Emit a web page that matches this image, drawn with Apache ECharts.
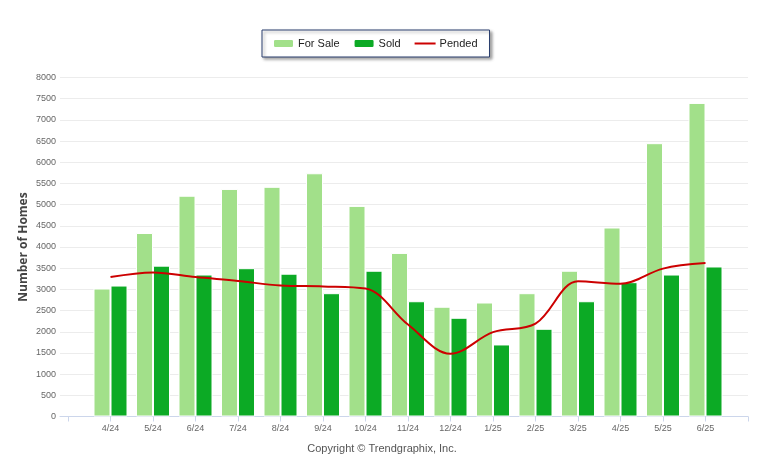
<!DOCTYPE html>
<html>
<head>
<meta charset="utf-8">
<script src="https://cdn.jsdelivr.net/npm/echarts@6/dist/echarts.min.js"></script>
<style>
html,body{margin:0;padding:0;background:#fff;}
#c{width:764px;height:469px;}
</style>
</head>
<body>
<div id="c"></div>
<script>
var categories = ['4/24','5/24','6/24','7/24','8/24','9/24','10/24','11/24','12/24','1/25','2/25','3/25','4/25','5/25','6/25'];
var forSale = [3020, 4330, 5210, 5370, 5420, 5740, 4970, 3860, 2590, 2690, 2910, 3440, 4460, 6450, 7400];
var sold    = [3090, 3560, 3350, 3500, 3370, 2910, 3440, 2720, 2330, 1700, 2070, 2720, 3170, 3350, 3540];
var pended  = [3290, 3400, 3290, 3200, 3090, 3070, 3020, 2170, 1480, 1990, 2190, 3190, 3130, 3490, 3620];
var yTicks = {min: 0, max: 8000, interval: 500};

function pad(a){ return [null].concat(a, [null]); }
var cats = [''].concat(categories, ['']);

var chart = echarts.init(document.getElementById('c'));
chart.setOption({
  animation: false,
  backgroundColor: '#fff',
  textStyle: {fontFamily: 'Liberation Sans, Arial, sans-serif'},
  legend: {
    left: 262, top: 30,
    padding: [8, 12, 8, 10],
    itemGap: 13,
    itemWidth: 21, itemHeight: 9,
    borderColor: '#2b3f6e', borderWidth: 1,
    backgroundColor: '#fff',
    shadowColor: 'rgba(0,0,0,0.35)', shadowBlur: 3, shadowOffsetX: 2, shadowOffsetY: 2,
    textStyle: {fontSize: 11, color: '#222', fontFamily: 'Liberation Sans, Arial, sans-serif', padding: [0,0,0,-1]},
    data: ['For Sale', 'Sold', {name: 'Pended', itemStyle: {opacity: 0}}]
  },
  grid: [
    {left: 60, right: 16, top: 77.5, height: 339},
    {left: 68, right: 16, top: 77.5, height: 339}
  ],
  xAxis: [
    {type: 'value', gridIndex: 0, min: 0, max: 1,
     axisLine: {show: true, onZero: false, lineStyle: {color: '#ccd6eb', width: 1}},
     axisTick: {show: false}, axisLabel: {show: false}, splitLine: {show: false}},
    {type: 'category', gridIndex: 1, data: cats, boundaryGap: false,
     axisLine: {show: false},
     axisTick: {show: true, length: 5, lineStyle: {color: '#ccd6eb'}},
     axisLabel: {fontSize: 9, color: '#666', margin: 8, interval: 0},
     splitLine: {show: false}}
  ],
  yAxis: [
    {type: 'value', gridIndex: 0, min: yTicks.min, max: yTicks.max, interval: yTicks.interval,
     name: 'Number of Homes', nameLocation: 'middle', nameGap: 30, nameRotate: 90, nameMoveOverlap: false,
     nameTextStyle: {fontSize: 12, fontWeight: 'bold', color: '#444', fontFamily: 'Open Sans, sans-serif'},
     axisLine: {show: false}, axisTick: {show: false},
     axisLabel: {fontSize: 9, color: '#666', margin: 4, formatter: function(v){ return String(v); }},
     splitLine: {show: true, lineStyle: {color: '#ececec', width: 1}}},
    {type: 'value', gridIndex: 1, min: yTicks.min, max: yTicks.max, interval: yTicks.interval, show: false,
     splitLine: {show: false}}
  ],
  series: [
    {name: 'For Sale', type: 'bar', xAxisIndex: 1, yAxisIndex: 1, data: pad(forSale),
     barWidth: 17, barGap: '0%',
     itemStyle: {color: '#a2e08a', borderColor: '#fff', borderWidth: 1}},
    {name: 'Sold', type: 'bar', xAxisIndex: 1, yAxisIndex: 1, data: pad(sold),
     barWidth: 17, barGap: '0%',
     itemStyle: {color: '#0caa25', borderColor: '#fff', borderWidth: 1}},
    {name: 'Pended', type: 'line', xAxisIndex: 1, yAxisIndex: 1, data: pad(pended),
     smooth: 0.35, symbol: 'none', connectNulls: false,
     lineStyle: {color: '#cc0000', width: 2},
     itemStyle: {color: '#cc0000'}}
  ],
  graphic: [
    {type: 'text', left: 'center', top: 443,
     style: {text: 'Copyright \u00a9 Trendgraphix, Inc.', fontSize: 11, fill: '#555', fontFamily: 'Liberation Sans, Arial, sans-serif'}}
  ]
});
</script>
</body>
</html>
